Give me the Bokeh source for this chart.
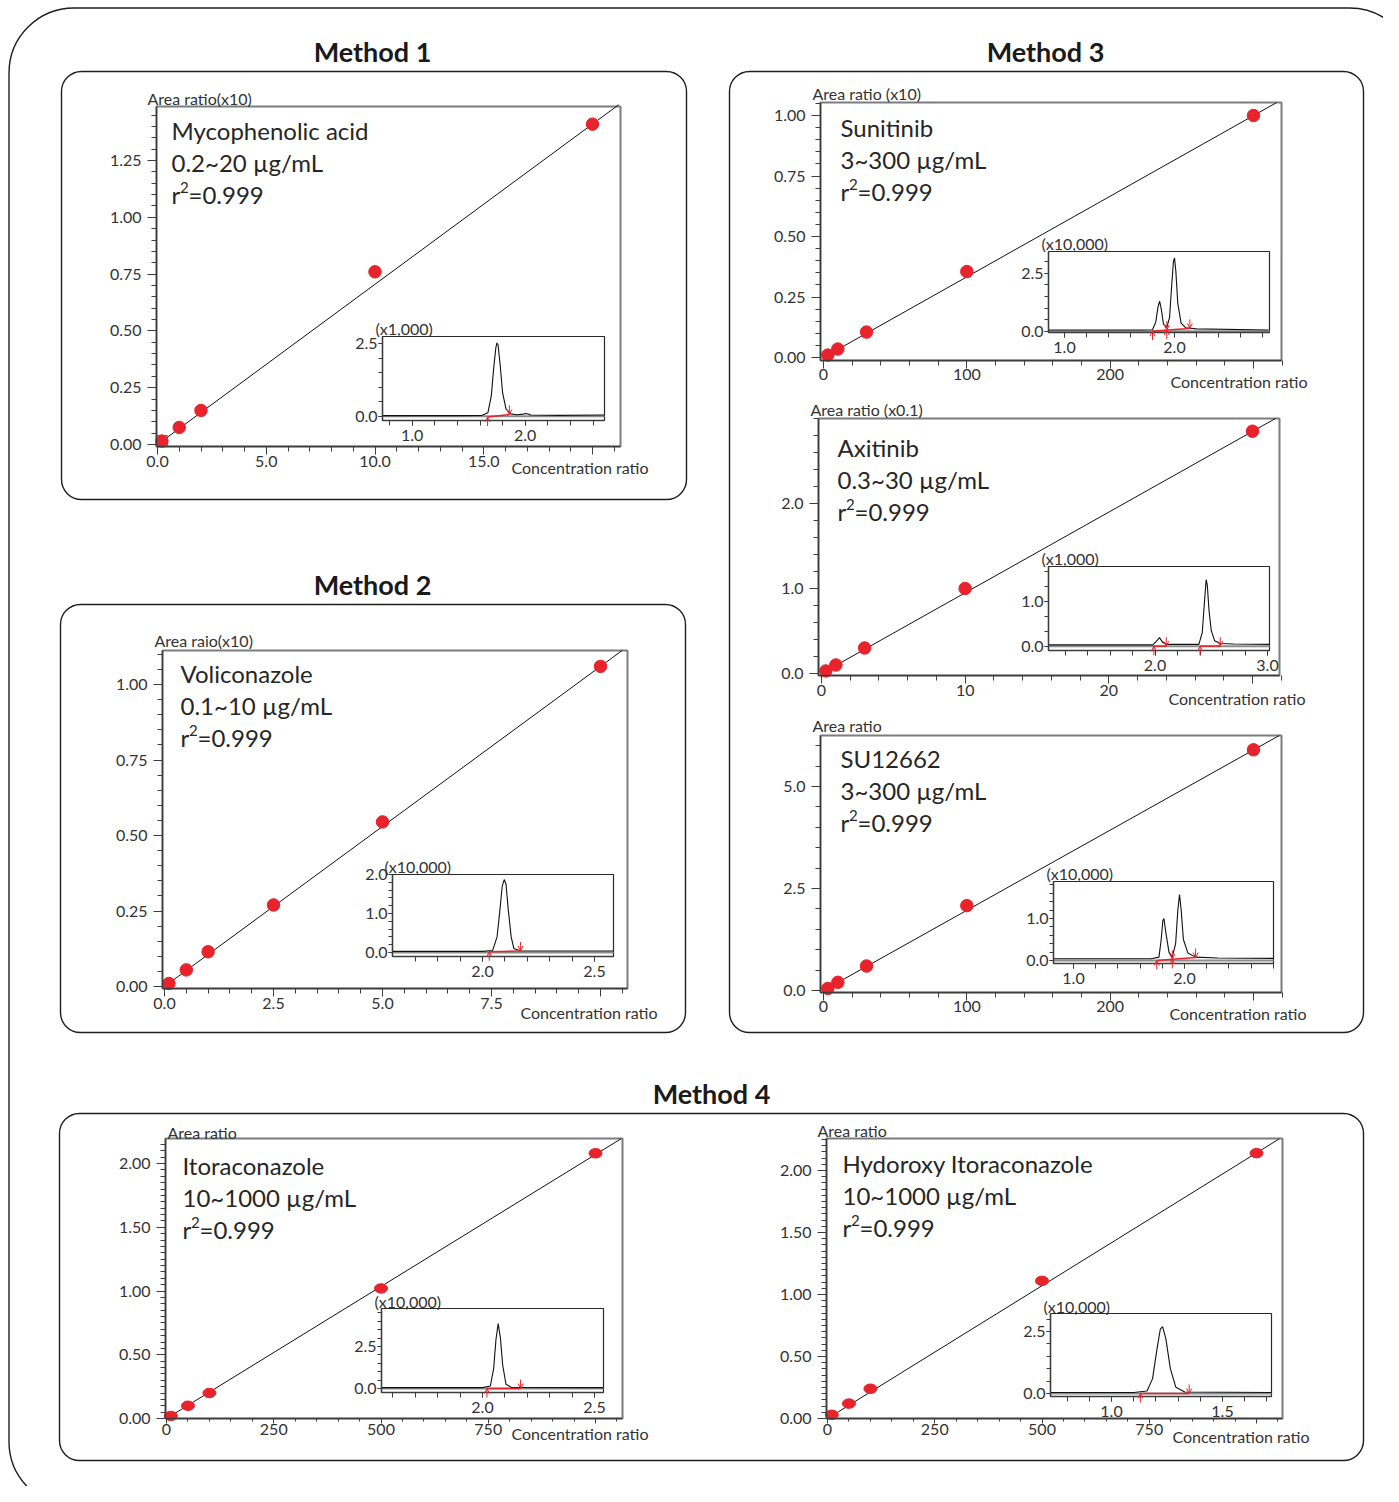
import numpy as np
from bokeh.plotting import figure
from bokeh.models import (Range1d, LinearAxis, FixedTicker, BoxAnnotation, Arrow,
                          OpenHead, ColumnDataSource, PrintfTickFormatter)
from bokeh.core.properties import value
from bokeh.embed import file_html
from bokeh.resources import INLINE

FONT = "Lato"
RED = "#e8232b"
INK = "#262626"
AX = "#3c3c3c"

# ============================ DATA ============================
method_titles = ["Method 1", "Method 2", "Method 3", "Method 4"]

# ---- Method 1 : Mycophenolic acid
myco_label = ["Mycophenolic acid", "0.2~20 µg/mL"]
myco_r2 = "0.999"
myco_yname = "Area ratio(x10)"
myco_conc = [0.2, 1.0, 2.0, 10.0, 20.0]
myco_area = [0.015, 0.075, 0.15, 0.76, 1.41]
myco_fit_x = [0.0, 21.2]
myco_fit_y = [0.0, 1.495]
myco_xticks = [0.0, 5.0, 10.0, 15.0, 20.0]
myco_yticks = [0.00, 0.25, 0.50, 0.75, 1.00, 1.25]
myco_scale = "(x1,000)"
myco_rt = [0.74, 1.40, 1.62, 1.67, 1.70, 1.72, 1.74, 1.75, 1.76, 1.78, 1.80, 1.83, 1.87, 1.93, 1.98, 2.01, 2.05, 2.30, 2.70]
myco_sig = [0.02, 0.02, 0.03, 0.12, 0.70, 1.60, 2.35, 2.52, 2.45, 1.70, 0.80, 0.25, 0.08, 0.05, 0.07, 0.09, 0.04, 0.03, 0.04]
myco_int_from = [1.667]
myco_int_to = [1.86]
myco_base_from = [-0.03]
myco_base_to = [0.06]
myco_rt_ticks = [1.0, 2.0]
myco_sig_ticks = [0.0, 2.5]

# ---- Method 2 : Voliconazole
voli_label = ["Voliconazole", "0.1~10 µg/mL"]
voli_r2 = "0.999"
voli_yname = "Area raio(x10)"
voli_conc = [0.1, 0.5, 1.0, 2.5, 5.0, 10.0]
voli_area = [0.01, 0.055, 0.115, 0.27, 0.545, 1.06]
voli_fit_x = [0.0, 10.5]
voli_fit_y = [0.0, 1.113]
voli_xticks = [0.0, 2.5, 5.0, 7.5, 10.0]
voli_yticks = [0.00, 0.25, 0.50, 0.75, 1.00]
voli_scale = "(x10,000)"
voli_rt = [1.60, 2.00, 2.045, 2.065, 2.078, 2.088, 2.097, 2.105, 2.115, 2.128, 2.14, 2.17, 2.585]
voli_sig = [0.03, 0.03, 0.05, 0.40, 1.10, 1.70, 1.87, 1.75, 1.10, 0.40, 0.10, 0.04, 0.04]
voli_int_from = [2.03]
voli_int_to = [2.17]
voli_base_from = [0.02]
voli_base_to = [0.04]
voli_rt_ticks = [2.0, 2.5]
voli_sig_ticks = [0.0, 1.0, 2.0]

# ---- Method 3 : Sunitinib
suni_label = ["Sunitinib", "3~300 µg/mL"]
suni_r2 = "0.999"
suni_yname = "Area ratio (x10)"
suni_conc = [3.0, 10.0, 30.0, 100.0, 300.0]
suni_area = [0.01, 0.035, 0.105, 0.355, 1.0]
suni_fit_x = [0.0, 316.0]
suni_fit_y = [0.0, 1.053]
suni_xticks = [0, 100, 200, 300]
suni_yticks = [0.00, 0.25, 0.50, 0.75, 1.00]
suni_scale = "(x10,000)"
suni_rt = [0.855, 1.70, 1.80, 1.83, 1.85, 1.865, 1.88, 1.90, 1.93, 1.955, 1.975, 1.99, 2.00, 2.012, 2.03, 2.06, 2.10, 2.20, 2.855]
suni_sig = [0.05, 0.05, 0.06, 0.40, 1.05, 1.29, 0.95, 0.30, 0.15, 0.60, 2.00, 3.00, 3.16, 2.60, 1.20, 0.35, 0.15, 0.10, 0.05]
suni_int_from = [1.80, 1.93]
suni_int_to = [1.93, 2.14]
suni_base_from = [0.00, 0.05]
suni_base_to = [0.05, 0.12]
suni_rt_ticks = [1.0, 2.0]
suni_sig_ticks = [0.0, 2.5]

# ---- Method 3 : Axitinib
axit_label = ["Axitinib", "0.3~30 µg/mL"]
axit_r2 = "0.999"
axit_yname = "Area ratio (x0.1)"
axit_conc = [0.3, 1.0, 3.0, 10.0, 30.0]
axit_area = [0.03, 0.10, 0.30, 1.00, 2.85]
axit_fit_x = [0.0, 31.6]
axit_fit_y = [0.0, 3.0]
axit_xticks = [0, 10, 20, 30]
axit_yticks = [0.0, 1.0, 2.0]
axit_scale = "(x1,000)"
axit_rt = [1.057, 1.98, 2.01, 2.04, 2.07, 2.10, 2.39, 2.42, 2.44, 2.455, 2.465, 2.48, 2.50, 2.53, 2.58, 2.70, 3.02]
axit_sig = [0.03, 0.03, 0.10, 0.19, 0.08, 0.04, 0.04, 0.30, 1.00, 1.48, 1.35, 0.80, 0.35, 0.12, 0.06, 0.05, 0.04]
axit_int_from = [1.99, 2.40]
axit_int_to = [2.10, 2.58]
axit_base_from = [0.0, 0.0]
axit_base_to = [0.0, 0.0]
axit_rt_ticks = [2.0, 3.0]
axit_sig_ticks = [0.0, 1.0]

# ---- Method 3 : SU12662
su_label = ["SU12662", "3~300 µg/mL"]
su_r2 = "0.999"
su_yname = "Area ratio"
su_conc = [3.0, 10.0, 30.0, 100.0, 300.0]
su_area = [0.05, 0.20, 0.60, 2.08, 5.90]
su_fit_x = [0.0, 318.0]
su_fit_y = [0.0, 6.25]
su_xticks = [0, 100, 200, 300]
su_yticks = [0.0, 2.5, 5.0]
su_scale = "(x10,000)"
su_rt = [0.82, 1.70, 1.77, 1.79, 1.805, 1.815, 1.83, 1.86, 1.89, 1.92, 1.94, 1.955, 1.97, 1.99, 2.03, 2.10, 2.30, 2.80]
su_sig = [0.04, 0.04, 0.08, 0.50, 0.95, 1.00, 0.70, 0.20, 0.08, 0.40, 1.20, 1.57, 1.20, 0.50, 0.18, 0.08, 0.06, 0.05]
su_int_from = [1.75, 1.89]
su_int_to = [1.89, 2.10]
su_base_from = [0.00, 0.03]
su_base_to = [0.03, 0.07]
su_rt_ticks = [1.0, 2.0]
su_sig_ticks = [0.0, 1.0]

# ---- Method 4 : Itoraconazole
itra_label = ["Itoraconazole", "10~1000 µg/mL"]
itra_r2 = "0.999"
itra_yname = "Area ratio"
itra_conc = [10.0, 50.0, 100.0, 500.0, 1000.0]
itra_area = [0.02, 0.10, 0.20, 1.02, 2.08]
itra_fit_x = [0.0, 1060.0]
itra_fit_y = [0.0, 2.195]
itra_xticks = [0, 250, 500, 750, 1000]
itra_yticks = [0.00, 0.50, 1.00, 1.50, 2.00]
itra_scale = "(x10,000)"
itra_rt = [1.55, 2.00, 2.035, 2.05, 2.06, 2.07, 2.08, 2.09, 2.105, 2.13, 2.54]
itra_sig = [0.05, 0.05, 0.15, 1.20, 2.90, 3.87, 3.00, 1.40, 0.25, 0.06, 0.05]
itra_int_from = [2.02]
itra_int_to = [2.17]
itra_base_from = [0.0]
itra_base_to = [0.0]
itra_rt_ticks = [2.0, 2.5]
itra_sig_ticks = [0.0, 2.5]

# ---- Method 4 : Hydoroxy Itoraconazole
hitra_label = ["Hydoroxy Itoraconazole", "10~1000 µg/mL"]
hitra_r2 = "0.999"
hitra_yname = "Area ratio"
hitra_conc = [10.0, 50.0, 100.0, 500.0, 1000.0]
hitra_area = [0.03, 0.12, 0.24, 1.11, 2.14]
hitra_fit_x = [0.0, 1053.0]
hitra_fit_y = [0.0, 2.255]
hitra_xticks = [0, 250, 500, 750, 1000]
hitra_yticks = [0.00, 0.50, 1.00, 1.50, 2.00]
hitra_scale = "(x10,000)"
hitra_rt = [0.725, 1.10, 1.16, 1.185, 1.205, 1.22, 1.23, 1.245, 1.265, 1.29, 1.33, 1.72]
hitra_sig = [0.04, 0.04, 0.10, 0.60, 1.80, 2.60, 2.70, 2.20, 1.00, 0.25, 0.06, 0.04]
hitra_int_from = [1.13]
hitra_int_to = [1.35]
hitra_base_from = [0.0]
hitra_base_to = [0.0]
hitra_rt_ticks = [1.0, 1.5]
hitra_sig_ticks = [0.0, 2.5]

x_title = "Concentration ratio"


def steps(a, b, s):
    return [round(v, 6) for v in np.arange(a, b + s / 2, s)]


# ============================ CANVAS ============================
CX0, CX1 = 0, 1383      # picture pixel columns covered by the canvas
CY0, CY1 = 0, 1486      # picture pixel rows covered by the canvas

p = figure(width=CX1 - CX0, height=CY1 - CY0,
           x_range=Range1d(CX0, CX1), y_range=Range1d(CY1, CY0),
           x_axis_type=None, y_axis_type=None, toolbar_location=None,
           output_backend="svg", min_border=0, outline_line_color=None)
p.background_fill_color = "white"
p.border_fill_color = "white"


def space(tag, xcal, ycal):
    xd0, xp0, xd1, xp1 = xcal
    kx = (xd1 - xd0) / (xp1 - xp0)
    p.extra_x_ranges[tag] = Range1d(xd0 - (xp0 - CX0) * kx, xd0 + (CX1 - xp0) * kx)
    yd0, yp0, yd1, yp1 = ycal
    ky = (yd1 - yd0) / (yp0 - yp1)
    p.extra_y_ranges[tag] = Range1d(yd0 - (CY1 - yp0) * ky, yd0 + (yp0 - CY0) * ky)
    fx = lambda px: xd0 + (px - xp0) * kx
    fy = lambda py: yd0 + (yp0 - py) * ky
    return fx, fy, ky


def style(ax, tick_out, minor_out, standoff, size="16px"):
    ax.major_label_text_font = FONT
    ax.major_label_text_font_size = size
    ax.major_label_text_color = "#333333"
    ax.axis_line_color = AX
    ax.axis_line_width = 1.4
    ax.major_tick_line_color = AX
    ax.minor_tick_line_color = AX
    ax.major_tick_in = 0
    ax.minor_tick_in = 0
    ax.major_tick_out = tick_out
    ax.minor_tick_out = minor_out
    ax.major_label_standoff = standoff


def xaxis(tag, loc, bounds, majors, minors, fmt, hide, tick, minor, stand):
    ax = LinearAxis(x_range_name=tag, fixed_location=loc, bounds=bounds,
                    ticker=FixedTicker(ticks=list(majors), minor_ticks=list(minors)),
                    formatter=PrintfTickFormatter(format=fmt))
    if hide:
        ax.major_label_overrides = {h: "" for h in hide}
    style(ax, tick, minor, stand)
    p.add_layout(ax, "below")


def yaxis(tag, loc, bounds, majors, minors, fmt, tick, minor, stand):
    ax = LinearAxis(y_range_name=tag, fixed_location=loc, bounds=bounds,
                    ticker=FixedTicker(ticks=list(majors), minor_ticks=list(minors)),
                    formatter=PrintfTickFormatter(format=fmt))
    style(ax, tick, minor, stand)
    p.add_layout(ax, "left")


def txt(xs, ys, texts, size, align="left", bold=False, color=INK):
    p.text(x=xs, y=ys, text=texts, text_font=value(FONT), text_font_size=size,
           text_align=align, text_baseline="middle", text_color=color,
           text_font_style="bold" if bold else "normal")


# ---- outer frame, method panels and titles
p.add_layout(BoxAnnotation(left=8.5, right=1414, top=7.5, bottom=1506, fill_color=None,
                           line_color="#1e1e1e", line_alpha=1.0, line_width=1.4,
                           border_radius=65, level="underlay"))
for (l, t, r, b) in [(61, 71, 686, 499), (60, 604, 685, 1032),
                     (729, 71, 1363, 1032), (59, 1113, 1363, 1460)]:
    p.add_layout(BoxAnnotation(left=l, right=r, top=t, bottom=b, fill_color=None,
                               line_color="#1e1e1e", line_alpha=1.0, line_width=1.4,
                               border_radius=20, level="underlay"))
txt([372, 372, 1045, 711], [51, 584, 51, 1093], method_titles, "27px", "center", True, "#1a1a1a")

# ---- calibration plots
mains = [
    dict(tag="myco", conc=myco_conc, area=myco_area, fx_=myco_fit_x, fy_=myco_fit_y,
         label=myco_label, r2=myco_r2, yname=myco_yname, xt=myco_xticks, yt=myco_yticks,
         frame=(156, 106, 620, 446), xcal=(0, 157, 20, 592), ycal=(0, 444, 1.25, 160),
         xminor=steps(0, 21, 1), yminor=steps(0, 1.45, 0.05), xfmt="%.1f", yfmt="%.2f",
         hide=[20], label_xy=(171, 130), yname_xy=(147, 98), xt_xy=(511, 467),
         xtick=(8, 5, 1), ytick=(9, 5, 6), ellipse=False),
    dict(tag="voli", conc=voli_conc, area=voli_area, fx_=voli_fit_x, fy_=voli_fit_y,
         label=voli_label, r2=voli_r2, yname=voli_yname, xt=voli_xticks, yt=voli_yticks,
         frame=(162, 650, 627, 988), xcal=(0, 164, 10, 600), ycal=(0, 986, 1.0, 684),
         xminor=steps(0, 10.5, 0.5), yminor=steps(0, 1.10, 0.05), xfmt="%.1f", yfmt="%.2f",
         hide=[10], label_xy=(180, 673), yname_xy=(154, 640), xt_xy=(520, 1012),
         xtick=(8, 5, 1), ytick=(9, 5, 6), ellipse=False),
    dict(tag="suni", conc=suni_conc, area=suni_area, fx_=suni_fit_x, fy_=suni_fit_y,
         label=suni_label, r2=suni_r2, yname=suni_yname, xt=suni_xticks, yt=suni_yticks,
         frame=(820, 102, 1281, 360), xcal=(0, 823, 300, 1253), ycal=(0, 357, 1.0, 115),
         xminor=steps(0, 320, 20), yminor=steps(0, 1.05, 0.05), xfmt="%d", yfmt="%.2f",
         hide=[300], label_xy=(840, 127), yname_xy=(812, 93), xt_xy=(1170, 381),
         xtick=(8, 5, 0), ytick=(9, 5, 6), ellipse=False),
    dict(tag="axit", conc=axit_conc, area=axit_area, fx_=axit_fit_x, fy_=axit_fit_y,
         label=axit_label, r2=axit_r2, yname=axit_yname, xt=axit_xticks, yt=axit_yticks,
         frame=(818, 418, 1279, 675), xcal=(0, 821, 30, 1252), ycal=(0, 673, 2.0, 503),
         xminor=steps(0, 32, 2), yminor=steps(0, 3.0, 0.2), xfmt="%d", yfmt="%.1f",
         hide=[30], label_xy=(837, 447), yname_xy=(810, 409), xt_xy=(1168, 698),
         xtick=(8, 5, 1), ytick=(9, 5, 6), ellipse=False),
    dict(tag="su", conc=su_conc, area=su_area, fx_=su_fit_x, fy_=su_fit_y,
         label=su_label, r2=su_r2, yname=su_yname, xt=su_xticks, yt=su_yticks,
         frame=(820, 735, 1281, 992), xcal=(0, 823, 300, 1253), ycal=(0, 990, 5.0, 786),
         xminor=steps(0, 320, 20), yminor=steps(0, 6.0, 0.5), xfmt="%d", yfmt="%.1f",
         hide=[300], label_xy=(840, 758), yname_xy=(812, 725), xt_xy=(1169, 1013),
         xtick=(8, 5, 0), ytick=(9, 5, 6), ellipse=False),
    dict(tag="itra", conc=itra_conc, area=itra_area, fx_=itra_fit_x, fy_=itra_fit_y,
         label=itra_label, r2=itra_r2, yname=itra_yname, xt=itra_xticks, yt=itra_yticks,
         frame=(165, 1138, 622, 1418), xcal=(0, 166, 1000, 595), ycal=(0, 1418, 2.0, 1163),
         xminor=steps(0, 1050, 50), yminor=steps(0, 2.15, 0.05), xfmt="%d", yfmt="%.2f",
         hide=[1000], label_xy=(182, 1165), yname_xy=(167, 1132), xt_xy=(511, 1433),
         xtick=(5, 3, 0), ytick=(9, 5, 6), ellipse=True),
    dict(tag="hitra", conc=hitra_conc, area=hitra_area, fx_=hitra_fit_x, fy_=hitra_fit_y,
         label=hitra_label, r2=hitra_r2, yname=hitra_yname, xt=hitra_xticks, yt=hitra_yticks,
         frame=(826, 1138, 1282, 1418), xcal=(0, 827, 1000, 1256), ycal=(0, 1418, 2.0, 1170),
         xminor=steps(0, 1050, 50), yminor=steps(0, 2.25, 0.05), xfmt="%d", yfmt="%.2f",
         hide=[1000], label_xy=(842, 1163), yname_xy=(817, 1130), xt_xy=(1172, 1436),
         xtick=(5, 3, 0), ytick=(9, 5, 6), ellipse=True),
]

for m in mains:
    tag = m["tag"]
    L, T, R, B = m["frame"]
    fx, fy, ky = space(tag, m["xcal"], m["ycal"])
    p.quad(left=[L], right=[R], top=[T], bottom=[B], fill_color="white",
           line_color="#7d7d7d", line_width=2)
    p.line(m["fx_"], m["fy_"], line_color="#111111", line_width=1,
           x_range_name=tag, y_range_name=tag)
    if m["ellipse"]:
        p.ellipse(x=m["conc"], y=m["area"], width=13, height=9.5, width_units="screen",
                  height_units="screen", fill_color=RED, line_color=RED,
                  x_range_name=tag, y_range_name=tag)
    else:
        p.scatter(m["conc"], m["area"], size=12.5, fill_color=RED, line_color=RED,
                  x_range_name=tag, y_range_name=tag)
    xaxis(tag, B, (fx(L), fx(R)), m["xt"], m["xminor"], m["xfmt"], m["hide"], *m["xtick"])
    yaxis(tag, L, (fy(B), fy(T)), m["yt"], m["yminor"], m["yfmt"], *m["ytick"])
    lx, ly = m["label_xy"]
    txt([lx] * 2, [ly, ly + 32], m["label"], "24px")
    # r^2 line: "r", raised "2", "=value"
    txt([lx], [ly + 64], ["r"], "24px")
    txt([lx + 8.5], [ly + 57], ["2"], "15px")
    txt([lx + 17], [ly + 64], ["=" + m["r2"]], "24px")
    txt([m["yname_xy"][0]], [m["yname_xy"][1]], [m["yname"]], "16px", color="#333333")
    txt([m["xt_xy"][0]], [m["xt_xy"][1]], [x_title], "16px", color="#333333")

# first-level selection mark in Method 1
p.scatter([myco_conc[0]], [myco_area[0]], marker="square", size=11, fill_color=None,
          line_color=RED, line_width=1, x_range_name="myco", y_range_name="myco")

# ---- inset chromatograms
insets = [
    dict(tag="myco_c", t=myco_rt, s=myco_sig, a=myco_int_from, b=myco_int_to,
         ba=myco_base_from, bb=myco_base_to, xt=myco_rt_ticks, yt=myco_sig_ticks,
         scale=myco_scale, box=(382, 336, 604, 420), xcal=(1.0, 411.7, 2.0, 524.7),
         ycal=(0, 415.7, 2.5, 343), xminor=steps(0.8, 2.6, 0.2), yminor=steps(0, 2.5, 0.5),
         scale_xy=(375, 328)),
    dict(tag="voli_c", t=voli_rt, s=voli_sig, a=voli_int_from, b=voli_int_to,
         ba=voli_base_from, bb=voli_base_to, xt=voli_rt_ticks, yt=voli_sig_ticks,
         scale=voli_scale, box=(392, 874, 613, 956), xcal=(2.0, 482, 2.5, 594),
         ycal=(0, 952, 2.0, 874), xminor=steps(1.7, 2.5, 0.1), yminor=steps(0, 2.0, 0.2),
         scale_xy=(384, 866)),
    dict(tag="suni_c", t=suni_rt, s=suni_sig, a=suni_int_from, b=suni_int_to,
         ba=suni_base_from, bb=suni_base_to, xt=suni_rt_ticks, yt=suni_sig_ticks,
         scale=suni_scale, box=(1048, 251, 1269, 332), xcal=(1.0, 1064, 2.0, 1174),
         ycal=(0, 330.7, 2.5, 272.7), xminor=steps(1.0, 2.8, 0.2), yminor=steps(0, 3.0, 0.5),
         scale_xy=(1041, 243)),
    dict(tag="axit_c", t=axit_rt, s=axit_sig, a=axit_int_from, b=axit_int_to,
         ba=axit_base_from, bb=axit_base_to, xt=axit_rt_ticks, yt=axit_sig_ticks,
         scale=axit_scale, box=(1048, 566, 1269, 650), xcal=(2.0, 1154.5, 3.0, 1267),
         ycal=(0, 645.7, 1.0, 600.7), xminor=steps(1.2, 3.0, 0.2),
         yminor=[round(k / 3, 4) for k in range(0, 6)], scale_xy=(1041, 558)),
    dict(tag="su_c", t=su_rt, s=su_sig, a=su_int_from, b=su_int_to,
         ba=su_base_from, bb=su_base_to, xt=su_rt_ticks, yt=su_sig_ticks,
         scale=su_scale, box=(1053, 881, 1273, 963), xcal=(1.0, 1073, 2.0, 1184),
         ycal=(0, 960, 1.0, 918), xminor=steps(1.0, 2.8, 0.2), yminor=steps(0, 1.8, 0.2),
         scale_xy=(1046, 873)),
    dict(tag="itra_c", t=itra_rt, s=itra_sig, a=itra_int_from, b=itra_int_to,
         ba=itra_base_from, bb=itra_base_to, xt=itra_rt_ticks, yt=itra_sig_ticks,
         scale=itra_scale, box=(381, 1308, 603, 1392), xcal=(2.0, 482, 2.5, 594),
         ycal=(0, 1388, 2.5, 1346), xminor=steps(1.6, 2.5, 0.1), yminor=steps(0, 4.5, 0.5),
         scale_xy=(374, 1301)),
    dict(tag="hitra_c", t=hitra_rt, s=hitra_sig, a=hitra_int_from, b=hitra_int_to,
         ba=hitra_base_from, bb=hitra_base_to, xt=hitra_rt_ticks, yt=hitra_sig_ticks,
         scale=hitra_scale, box=(1050, 1313, 1271, 1396), xcal=(1.0, 1111, 1.5, 1222),
         ycal=(0, 1393, 2.5, 1331), xminor=steps(0.8, 1.7, 0.1), yminor=steps(0, 3.0, 0.5),
         scale_xy=(1043, 1306)),
]

for c in insets:
    tag = c["tag"]
    L, T, R, B = c["box"]
    fx, fy, ky = space(tag, c["xcal"], c["ycal"])
    p.quad(left=[L], right=[R], top=[T], bottom=[B], fill_color="white",
           line_color="#2a2a2a", line_width=1.2)
    p.line([fx(L), fx(R)], [0.0, 0.0], line_color="#8c8c8c", line_width=2,
           x_range_name=tag, y_range_name=tag)
    p.line(c["t"], c["s"], line_color="#111111", line_width=1.1,
           x_range_name=tag, y_range_name=tag)
    p.segment(x0=c["a"], y0=c["ba"], x1=c["b"], y1=c["bb"], line_color=RED,
              line_width=1.5, x_range_name=tag, y_range_name=tag)
    d = 9 * ky
    x0 = list(c["a"]) + list(c["b"])
    y0 = [v - d for v in c["ba"]] + [v + d for v in c["bb"]]
    y1 = list(c["ba"]) + list(c["bb"])
    src = ColumnDataSource(dict(x0=x0, y0=y0, x1=x0, y1=y1))
    p.add_layout(Arrow(end=OpenHead(size=5, line_color=RED, line_width=1),
                       source=src, x_start="x0", y_start="y0", x_end="x1", y_end="y1",
                       line_color=RED, line_width=1, x_range_name=tag, y_range_name=tag))
    xaxis(tag, B, (fx(L), fx(R)), c["xt"], c["xminor"], "%.1f", None, 5, 5, 4)
    yaxis(tag, L, (fy(B), fy(T)), c["yt"], c["yminor"], "%.1f", 4, 4, 1)
    txt([c["scale_xy"][0]], [c["scale_xy"][1]], [c["scale"]], "16px", color="#333333")

open("out.html", "w").write(file_html(p, INLINE, title="Calibration curves"))
